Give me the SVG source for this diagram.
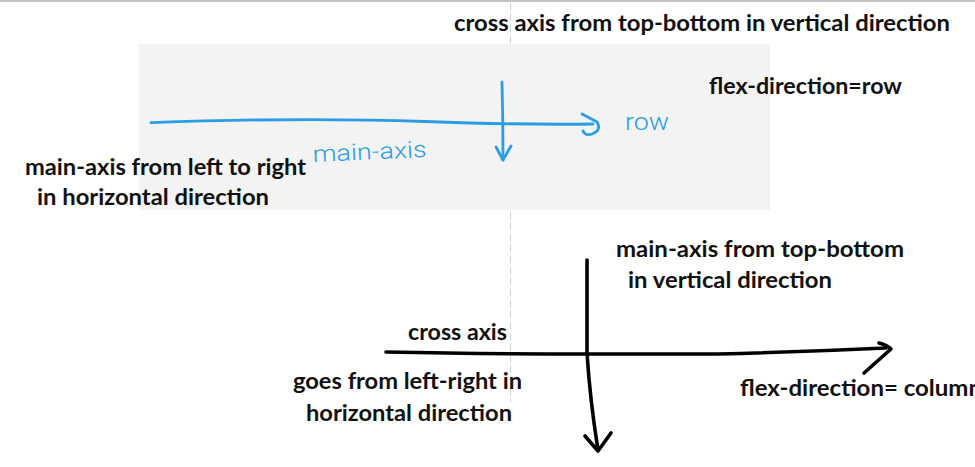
<svg xmlns="http://www.w3.org/2000/svg" width="975" height="467" viewBox="0 0 975 467">
<style>
.t{font-family:Lato,"Open Sans","Liberation Sans",sans-serif;font-weight:700;font-size:23.5px;fill:#111}
.h{font-family:Roboto,"Noto Sans","Liberation Sans",sans-serif;font-weight:300;fill:#2b9ce6}
.blue{fill:none;stroke:#2b9ce6;stroke-width:2.8;stroke-linecap:round;stroke-linejoin:round}
.blk{fill:none;stroke:#000;stroke-width:3.6;stroke-linecap:round;stroke-linejoin:round}
</style>
<rect x="0" y="0" width="975" height="467" fill="#fff"/>
<rect x="0" y="0" width="975" height="2" fill="#c4c4c4"/>
<line x1="510.5" y1="3" x2="510.5" y2="402" stroke="#d2d2d2" stroke-width="1" stroke-dasharray="7 4"/>
<rect x="139" y="44" width="631" height="166" fill="#f3f3f3"/>
<g id="connectors">
<path class="blue" d="M151,122.7 C250,119 340,118.5 425,121.5 S560,124.5 593,124"/>
<path class="blue" d="M582,114 L597,122 Q602,130 592,134 Q585,136 583,131"/>
<path class="blue" d="M502,82 Q503,120 503,160"/>
<path class="blue" d="M496,147 L503,160 L511,146"/>
<path class="blk" d="M386,352 Q480,354 585,354 L718,354 Q800,352 886,348"/>
<path class="blk" d="M879,343 Q887,345 891,349 L864,373"/>
<path class="blk" d="M587,260 L587,353 Q590,400 598,450"/>
<path class="blk" d="M585,436 L598,451 L611,433"/>
</g>
<g id="top-label"><text class="t" x="454" y="31" textLength="496" lengthAdjust="spacingAndGlyphs">cross axis from top-bottom in vertical direction</text></g>
<g id="row-label"><text class="t" x="709" y="94" textLength="193" lengthAdjust="spacingAndGlyphs">flex-direction=row</text></g>
<g id="row-main-label"><text class="t" x="25" y="175" textLength="281" lengthAdjust="spacingAndGlyphs">main-axis from left to right</text>
<text class="t" x="37" y="205" textLength="232" lengthAdjust="spacingAndGlyphs">in horizontal direction</text></g>
<g id="row-hand"><text class="h" x="625" y="130" font-size="23" textLength="44" lengthAdjust="spacingAndGlyphs">row</text>
<text class="h" x="313" y="162" font-size="23" textLength="114" lengthAdjust="spacingAndGlyphs" transform="rotate(-2.5 313 162)">main-axis</text></g>
<g id="col-main-label"><text class="t" x="616" y="257" textLength="288" lengthAdjust="spacingAndGlyphs">main-axis from top-bottom</text>
<text class="t" x="628" y="288" textLength="204" lengthAdjust="spacingAndGlyphs">in vertical direction</text></g>
<g id="col-cross-label"><text class="t" x="408" y="340" textLength="99" lengthAdjust="spacingAndGlyphs">cross axis</text></g>
<g id="col-cross-desc"><text class="t" x="293" y="389" textLength="229" lengthAdjust="spacingAndGlyphs">goes from left-right in</text>
<text class="t" x="306" y="421" textLength="206" lengthAdjust="spacingAndGlyphs">horizontal direction</text></g>
<g id="col-label"><text class="t" x="740" y="396" textLength="242" lengthAdjust="spacingAndGlyphs">flex-direction= column</text></g>
</svg>
